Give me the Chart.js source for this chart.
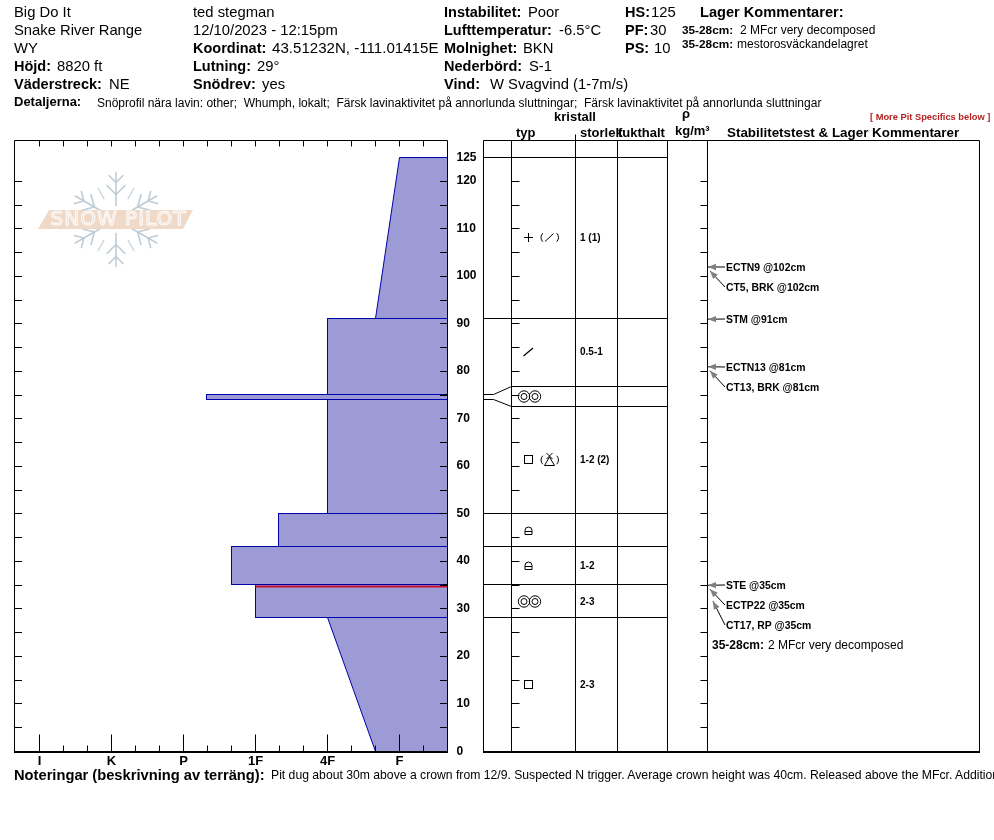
<!DOCTYPE html>
<html><head><meta charset="utf-8">
<style>
html,body{margin:0;padding:0;background:#fff;width:994px;height:840px;overflow:hidden;position:relative}
canvas{position:absolute;left:0;top:0}
.t{position:absolute;white-space:pre;font-family:"Liberation Sans",Arial,sans-serif;color:#000;line-height:16px}
</style>
<script src="https://cdn.jsdelivr.net/npm/chart.js@4/dist/chart.umd.min.js"></script>
</head><body>
<canvas id="profile" width="994" height="840"></canvas>
<canvas id="layers" width="994" height="840"></canvas>
<script>
// ---- data ----
const hardnessLabels = ['I','K','P','1F','4F','F'];
const hardnessTicks = [1,2,3,4,5,6];
const depthTicks = [0,10,20,30,40,50,60,70,80,90,100,110,120,125];
const layerTop    = [125,91,75,74,50,43,35,28];
const layerBottom = [91,75,74,50,43,35,28,0];
const hardTop     = [6,5,3.3333,5,4.3333,3.6667,4,5];
const hardBottom  = [5.6667,5,3.3333,5,4.3333,3.6667,4,5.6667];
const weakLayerDepth = [34.7];
const weakLayerHard = [4];
const boundaryDepths = [125,91,50,43,35,28];
const displayedBoundaryDepths = [76.8,72.6];
const thinLayerEdges = [75,74];
const displayedThinEdges = [76.8,72.6];
const grainDepths = [108,84,74.7,61.3,46.5,39,31.5,14];
const grainPrimary = ['plus','slash','rounds','square','lock','lock','rounds','square'];
const grainSecondary = ['paren-slash',null,null,'paren-tri',null,null,null,null];
const grainSizes = ['1 (1)','0.5-1','','1-2 (2)','','1-2','2-3','2-3'];
const testLabels = ['ECTN9 @102cm','CT5, BRK @102cm','STM @91cm','ECTN13 @81cm','CT13, BRK @81cm','STE @35cm','ECTP22 @35cm','CT17, RP @35cm'];
const testDepths = [102,102,91,81,81,35,35,35];

// ---- layout constants ----
const FONT = '"Liberation Sans",Arial,sans-serif';
const panelCols = [0,28,92,134,184,224,496];
const testLabelY = [267,287,319,367,387,585,605,625];
const arrowTipX = [708,710,708,708,710,708,710,713];
const arrowTipDy = [0,4,0,0,4,0,4,16];
const fillColor = '#9c9bd6', edgeColor = '#0000a8';

function snap(scale){
  if(scale.rawPixel) return;
  const orig = scale.getPixelForValue.bind(scale);
  scale.rawPixel = orig;
  scale.getPixelForValue = (v,i)=>Math.floor(orig(v,i)-0.5)+0.5;
}
const snapPlugin = {id:'snap',beforeUpdate(c){Object.values(c.scales).forEach(snap);}};
function line(ctx,x1,y1,x2,y2){ctx.beginPath();ctx.moveTo(x1,y1);ctx.lineTo(x2,y2);ctx.stroke();}

function drawLogo(ctx){
  ctx.save();
  const cx=116,cy=219.5;
  ctx.strokeStyle='#bfccd5';ctx.lineWidth=1.6;ctx.lineCap='round';
  for(let a=0;a<6;a++){
    ctx.save();ctx.translate(cx,cy);ctx.rotate(a*Math.PI/3);
    line(ctx,0,-14,0,-47);
    [[-25,9],[-37,7]].forEach(([y,s])=>{line(ctx,0,y,-s,y-s);line(ctx,0,y,s,y-s);});
    ctx.rotate(Math.PI/6);
    ctx.lineWidth=1.1;line(ctx,0,-24,0,-36);ctx.lineWidth=1.6;
    ctx.restore();
  }
  ctx.fillStyle='#f0d9c7';
  ctx.beginPath();ctx.moveTo(49,210);ctx.lineTo(193,210);ctx.lineTo(183,229);ctx.lineTo(38,229);ctx.closePath();ctx.fill();
  ctx.font='20px "DejaVu Sans"';ctx.textAlign='center';ctx.textBaseline='middle';
  if('letterSpacing' in ctx) ctx.letterSpacing='1px';
  ctx.lineWidth=1.1;ctx.strokeStyle='#fbfbfb';
  ctx.strokeText('SNOW PILOT',118.5,220);
  ctx.restore();
}

const profileFrame = {
  id:'profileFrame',
  beforeDatasetsDraw(c){drawLogo(c.ctx);},
  afterDatasetsDraw(c){
    const ctx=c.ctx,{left,right,top,bottom}=c.chartArea,x=c.scales.x,y=c.scales.y;
    ctx.save();ctx.strokeStyle='#000';ctx.lineWidth=1;
    line(ctx,14.5,top,right,top);line(ctx,14.5,top,14.5,bottom);line(ctx,right,top,right,bottom);
    ctx.lineWidth=2;line(ctx,14,bottom+0.5,right+0.5,bottom+0.5);ctx.lineWidth=1;
    for(let k=1;k<18;k++){
      const v=2/3+k/3,p=Math.round(x.rawPixel(v)-0.5)+0.5;
      line(ctx,p,top,p,top+6);
      const major=Math.abs(v-Math.round(v))<1e-6;
      line(ctx,p,bottom,p,bottom-(major?17:6));
    }
    for(let d=5;d<=120;d+=5){
      const p=Math.round(y.rawPixel(d)-0.5)+0.5;
      line(ctx,15,p,22,p);line(ctx,440,p,right,p);
    }
    [75,35].forEach(d=>{const p=y.getPixelForValue(d);line(ctx,443,p,right,p);});
    ctx.restore();
  }
};

const profileSets = layerTop.map((t,i)=>({
  data:[{x:20/3,y:t},{x:hardTop[i],y:t},{x:hardBottom[i],y:layerBottom[i]},{x:20/3,y:layerBottom[i]},{x:20/3,y:t}],
  showLine:true,fill:'shape',backgroundColor:fillColor,borderColor:edgeColor,borderWidth:1,pointRadius:0,tension:0
}));
profileSets.push({
  data:[{x:weakLayerHard[0],y:weakLayerDepth[0]},{x:20/3,y:weakLayerDepth[0]}],
  showLine:true,borderColor:'#c8102e',borderWidth:2,pointRadius:0,fill:false,order:-1
});
const tickFont={family:FONT,size:12,weight:'bold'};
new Chart(document.getElementById('profile'),{
  type:'scatter',
  data:{datasets:profileSets},
  plugins:[snapPlugin,profileFrame],
  options:{
    responsive:false,animation:false,devicePixelRatio:1,
    layout:{padding:{left:15.5,top:140.5,right:510.5,bottom:64.5}},
    plugins:{legend:{display:false},tooltip:{enabled:false}},
    scales:{
      x:{type:'linear',min:2/3,max:20/3,grid:{display:false,drawTicks:false},border:{display:false},
         afterBuildTicks:s=>{s.ticks=hardnessTicks.map(v=>({value:v}));},
         afterFit:s=>{s.height=24;},
         ticks:{autoSkip:false,maxRotation:0,padding:2,color:'#000',font:{family:FONT,size:13,weight:'bold'},
           callback:v=>hardnessLabels[hardnessTicks.indexOf(v)]||''}},
      y:{type:'linear',position:'right',min:0,max:611/4.7503,grid:{display:false,drawTicks:false},border:{display:false},
         afterBuildTicks:s=>{s.ticks=depthTicks.map(v=>({value:v}));},
         afterFit:s=>{s.width=36;},
         ticks:{autoSkip:false,padding:9,color:'#000',font:tickFont,callback:v=>String(v)}}
    }
  }
});

// ---- grain glyphs used as point styles ----
function glyph(w,h,fn){
  const g=document.createElement('canvas');g.width=w;g.height=h;
  const ctx=g.getContext('2d');ctx.strokeStyle='#000';ctx.fillStyle='#000';ctx.lineWidth=1;fn(ctx,w/2,h/2);return g;
}
const glyphs={
  plus:glyph(13,13,(c)=>{line(c,2,6.5,11,6.5);line(c,6.5,2,6.5,11);}),
  slash:glyph(13,13,(c)=>{c.lineWidth=1.2;line(c,1.5,11,11,3);}),
  square:glyph(13,13,(c)=>{c.strokeRect(2.5,2.5,8,8);}),
  lock:glyph(13,13,(c)=>{c.beginPath();c.moveTo(3,10.5);c.lineTo(3,6.5);c.arc(6.5,6.5,3.5,Math.PI,0);c.lineTo(10,10.5);c.closePath();c.stroke();line(c,3,7.5,10,7.5);}),
  rounds:glyph(31,15,(c)=>{
    [11,22].forEach(x=>{c.beginPath();c.arc(x,7.5,5.7,0,7);c.stroke();c.beginPath();c.arc(x,7.5,3,0,7);c.stroke();});
  }),
  'paren-slash':glyph(27,15,(c)=>{
    c.beginPath();c.arc(11,7.5,6,Math.PI*0.75,Math.PI*1.25);c.stroke();
    c.beginPath();c.arc(16.5,7.5,6,-Math.PI*0.25,Math.PI*0.25);c.stroke();
    line(c,9,11.5,17.5,3.5);
  }),
  'paren-tri':glyph(27,17,(c)=>{
    c.beginPath();c.arc(11,9,6,Math.PI*0.75,Math.PI*1.25);c.stroke();
    c.beginPath();c.arc(16.5,9,6,-Math.PI*0.25,Math.PI*0.25);c.stroke();
    c.beginPath();c.moveTo(13.5,6);c.lineTo(18.5,14.5);c.lineTo(8.5,14.5);c.closePath();c.stroke();
    line(c,10.5,2,16.5,8);line(c,16.5,2,10.5,8);
  })
};

const layerFrame={
  id:'layerFrame',
  afterDatasetsDraw(c){
    const ctx=c.ctx,{top,bottom}=c.chartArea,x=c.scales.x,y=c.scales.y;
    ctx.save();ctx.strokeStyle='#000';ctx.lineWidth=1;
    const xs=panelCols.map(v=>x.getPixelForValue(v));
    xs.forEach(p=>line(ctx,p,top,p,bottom));
    line(ctx,xs[0],top,xs[6],top);
    ctx.lineWidth=2;line(ctx,xs[0]-0.5,bottom+0.5,xs[6]+0.5,bottom+0.5);ctx.lineWidth=1;
    line(ctx,xs[2],top-6,xs[2],top);
    for(let d=5;d<=120;d+=5){
      const p=Math.round(y.rawPixel(d)-0.5)+0.5;
      line(ctx,xs[1],p,xs[1]+8,p);line(ctx,xs[5]-7,p,xs[5],p);
    }
    line(ctx,xs[1],y.getPixelForValue(35),xs[1]+3,y.getPixelForValue(35));
    // grain size text
    ctx.fillStyle='#000';ctx.textBaseline='middle';ctx.textAlign='left';
    ctx.font='bold 10px '+FONT;
    grainSizes.forEach((s,i)=>{if(s)ctx.fillText(s,xs[2]+4.5,y.getPixelForValue(grainDepths[i])+1);});
    // stability tests
    testLabels.forEach((s,i)=>{
      const tipY=y.rawPixel(testDepths[i])+arrowTipDy[i],tipX=arrowTipX[i],ly=testLabelY[i];
      ctx.strokeStyle='#000';ctx.lineWidth=1;
      line(ctx,725,ly,tipX,tipY);
      const a=Math.atan2(ly-tipY,725-tipX),L=8,W=3.2;
      ctx.fillStyle='#808080';ctx.beginPath();ctx.moveTo(tipX,tipY);
      ctx.lineTo(tipX+L*Math.cos(a)-W*Math.sin(a),tipY+L*Math.sin(a)+W*Math.cos(a));
      ctx.lineTo(tipX+L*Math.cos(a)+W*Math.sin(a),tipY+L*Math.sin(a)-W*Math.cos(a));
      ctx.closePath();ctx.fill();
      ctx.fillStyle='#000';ctx.font='bold 10.4px '+FONT;ctx.fillText(s,726,ly+1);
    });
    ctx.restore();
  }
};
const lineSet=(pts)=>({data:pts,showLine:true,borderColor:'#000',borderWidth:1,pointRadius:0,fill:false,tension:0});
const layerSets=[
  ...boundaryDepths.map(d=>lineSet([{x:panelCols[0],y:d},{x:panelCols[4],y:d}])),
  ...displayedBoundaryDepths.map(d=>lineSet([{x:panelCols[1],y:d},{x:panelCols[4],y:d}])),
  ...thinLayerEdges.map((d,i)=>lineSet([{x:panelCols[0],y:d},{x:10,y:d},{x:panelCols[1],y:displayedThinEdges[i]}])),
  {data:grainDepths.map(d=>({x:45,y:d})),showLine:false,pointStyle:grainPrimary.map(k=>glyphs[k]),pointRadius:6,pointHoverRadius:6},
  {data:grainDepths.map(d=>({x:66,y:d})),showLine:false,
   pointStyle:grainSecondary.map(k=>k?glyphs[k]:false),pointRadius:grainSecondary.map(k=>k?6:0)}
];
new Chart(document.getElementById('layers'),{
  type:'scatter',
  data:{datasets:layerSets},
  plugins:[snapPlugin,layerFrame],
  options:{
    responsive:false,animation:false,devicePixelRatio:1,
    layout:{padding:{left:483.5,top:140.5,right:14.5,bottom:88.5}},
    plugins:{legend:{display:false},tooltip:{enabled:false}},
    scales:{
      x:{type:'linear',display:false,min:0,max:496},
      y:{type:'linear',display:false,min:0,max:611/4.7503}
    }
  }
});

// ---- page text ----
function t(x,y,text,size,bold,color){
  const s=document.createElement('span');s.className='t';
  s.style.left=x+'px';s.style.top=(y-8)+'px';s.style.fontSize=size+'px';
  if(bold)s.style.fontWeight='bold';if(color)s.style.color=color;
  s.textContent=text;document.body.appendChild(s);
}
const H=14.8,B=14.5;
[['Big Do It',12],['Snake River Range',30],['WY',48]].forEach(r=>t(14,r[1],r[0],H));
[['ted stegman',12],['12/10/2023 - 12:15pm',30]].forEach(r=>t(193,r[1],r[0],H));
const pairs=[
 [14,66,'Höjd:',57,'8820 ft'],[14,84,'Väderstreck:',109,'NE'],
 [193,48,'Koordinat:',272,'43.51232N, -111.01415E',15.1],[193,66,'Lutning:',257,'29°'],[193,84,'Snödrev:',262,'yes'],
 [444,12,'Instabilitet:',528,'Poor'],[444,30,'Lufttemperatur:',559,'-6.5°C'],[444,48,'Molnighet:',523,'BKN'],
 [444,66,'Nederbörd:',529,'S-1'],[444,84,'Vind:',490,'W Svagvind (1-7m/s)'],
 [625,12,'HS:',651,'125'],[625,30,'PF:',650,'30'],[625,48,'PS:',654,'10']
];
pairs.forEach(p=>{t(p[0],p[1],p[2],B,true);t(p[3],p[1],p[4],p[5]||H);});
t(700,12,'Lager Kommentarer:',14.6,true);
t(682,30,'35-28cm:',11.8,true);t(740,30,'2 MFcr very decomposed',12);
t(682,44,'35-28cm:',11.8,true);t(737,44,'mestorosväckandelagret',12);
t(14,102,'Detaljerna:',13,true);
t(97,103,'Snöprofil nära lavin: other;  Whumph, lokalt;  Färsk lavinaktivitet på annorlunda sluttningar;  Färsk lavinaktivitet på annorlunda sluttningar',12);
t(870,117,'[ More Pit Specifics below ]',9.3,true,'#b22222');
t(554,117,'kristall',13,true);t(516,133,'typ',13,true);t(580,133,'storlek',13,true);t(618,133,'fukthalt',13,true);
t(682,114,'ρ',13,true);t(675,131,'kg/m³',13,true);
t(727,133,'Stabilitetstest & Lager Kommentarer',13.4,true);
t(712,645,'35-28cm:',12,true);t(768,645,'2 MFcr very decomposed',12);
t(14,775,'Noteringar (beskrivning av terräng):',14.7,true);
t(271,775,'Pit dug about 30m above a crown from 12/9. Suspected N trigger. Average crown height was 40cm. Released above the MFcr. Additional',12.2);
</script>
</body></html>
